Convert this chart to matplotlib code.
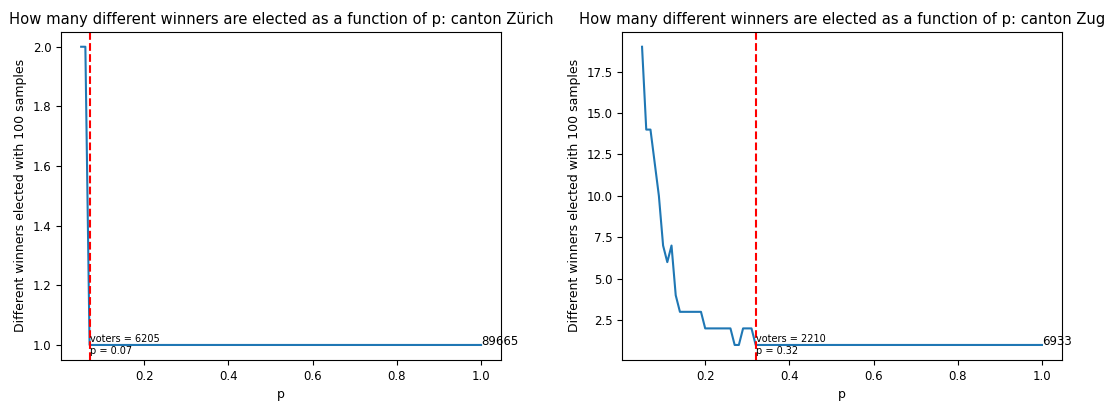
import matplotlib
matplotlib.use("Agg")
import matplotlib.pyplot as plt
import numpy as np

# sampling probabilities p = 0.05 ... 1.00
p = np.round(np.arange(0.05, 1.001, 0.01), 2)

cantons = ["Zürich", "Zug"]
total_voters = [89665, 6933]
threshold_p = [0.07, 0.32]
threshold_voters = [6205, 2210]

# number of distinct winners over 100 samples, one entry per p
winners_zurich = [2, 2] + [1] * 94
winners_zug = [19, 14, 14, 12, 10, 7, 6, 7, 4, 3, 3, 3, 3, 3, 3,
               2, 2, 2, 2, 2, 2, 2, 1, 1, 2, 2, 2] + [1] * 69
winners = [winners_zurich, winners_zug]

fig, axes = plt.subplots(1, 2, figsize=(11.12, 4.03), dpi=100)
fig.subplots_adjust(left=0.055, right=0.955, bottom=0.107, top=0.921, wspace=0.275)

for ax, name, w, n, pt, nv in zip(axes, cantons, winners, total_voters,
                                  threshold_p, threshold_voters):
    ax.plot(p, w, color="#1f77b4", linewidth=1.5)
    ax.axvline(pt, color="red", linestyle="--", linewidth=1.5)
    ax.text(pt, 1, "voters = %d\np = %.2f" % (nv, pt), fontsize=7, va="center")
    ax.text(p[-1], 1, str(n), fontsize=8.5)
    ax.set_title("How many different winners are elected as a function of p: canton " + name,
                 fontsize=10.6)
    ax.set_xlabel("p", fontsize=9)
    ax.set_ylabel("Different winners elected with 100 samples", fontsize=9)
    ax.tick_params(labelsize=8.5)

fig.savefig("out.png", dpi=100)
